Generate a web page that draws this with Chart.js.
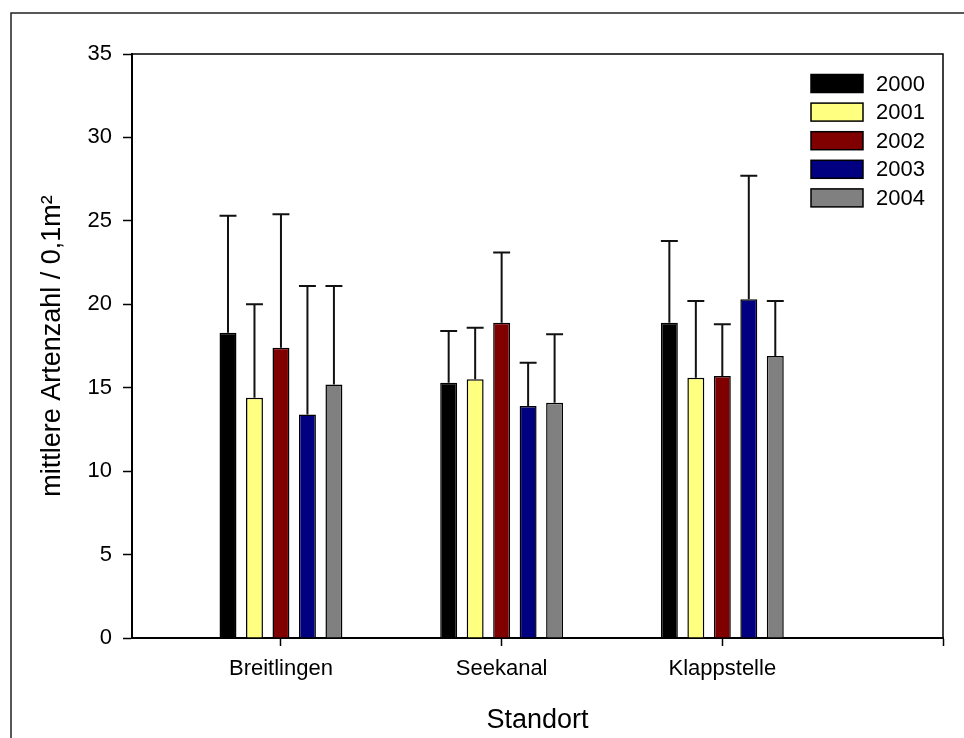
<!DOCTYPE html>
<html>
<head>
<meta charset="utf-8" />
<title>Artenzahl</title>
<script src="https://cdn.jsdelivr.net/npm/chart.js@4.4.1/dist/chart.umd.min.js"></script>
<style>
    html, body { margin: 0; padding: 0; background: #fff; overflow: hidden; }
    #holder { position: relative; width: 964px; height: 738px; }
</style>
</head>
<body>
<div id="holder"><canvas id="chart"></canvas></div>

<script>
// sites and tick positions
var categories = ['Breitlingen', 'Seekanal', 'Klappstelle'];
var sitePos = [1, 2, 3];
var yTicks = [0, 5, 10, 15, 20, 25, 30, 35];

// mean species count per year (one value per site)
var years = ['2000', '2001', '2002', '2003', '2004'];
var m2000 = [18.3, 15.3, 18.9];
var m2001 = [14.4, 15.5, 15.6];
var m2002 = [17.4, 18.9, 15.7];
var m2003 = [13.4, 13.9, 20.3];
var m2004 = [15.2, 14.1, 16.9];

// upper error (standard deviation)
var e2000 = [7.0, 3.1, 4.9];
var e2001 = [5.6, 3.1, 4.6];
var e2002 = [8.0, 4.2, 3.1];
var e2003 = [7.7, 2.6, 7.4];
var e2004 = [5.9, 4.1, 3.3];

var means = [m2000, m2001, m2002, m2003, m2004];
var errs = [e2000, e2001, e2002, e2003, e2004];
var colors = ['#000000', '#FFFF80', '#800000', '#000080', '#808080'];

var FONT = '"Liberation Sans", Arial, Helvetica, sans-serif';

function toPoints(vals) {
    return vals.map(function(v, i) { return { x: sitePos[i], y: v }; });
}

var datasets = years.map(function(yr, k) {
    return {
        label: yr,
        data: toPoints(means[k]),
        errors: errs[k],
        backgroundColor: colors[k],
        borderColor: '#000',
        borderWidth: 1.5,
        categoryPercentage: 0.6,
        barPercentage: 0.64
    };
});

// whisker on top of every bar, only the upper half
var errorBars = {
    id: 'errorBars',
    afterDatasetsDraw: function(chart) {
        var ctx = chart.ctx;
        var yScale = chart.scales.y;
        ctx.save();
        ctx.strokeStyle = '#111';
        ctx.lineWidth = 2;
        chart.data.datasets.forEach(function(ds, i) {
            var meta = chart.getDatasetMeta(i);
            meta.data.forEach(function(bar, j) {
                var top = yScale.getPixelForValue(ds.data[j].y + ds.errors[j]);
                var half = bar.width / 2;
                ctx.beginPath();
                ctx.moveTo(bar.x, bar.y);
                ctx.lineTo(bar.x, top);
                ctx.moveTo(bar.x - half, top);
                ctx.lineTo(bar.x + half, top);
                ctx.stroke();
            });
        });
        ctx.restore();
    }
};

// outer frame of the figure and the closing lines of the plot box
var frames = {
    id: 'frames',
    beforeDraw: function(chart) {
        var ctx = chart.ctx;
        ctx.save();
        ctx.strokeStyle = '#222';
        ctx.lineWidth = 1.5;
        ctx.beginPath();
        ctx.moveTo(11, chart.height + 2);
        ctx.lineTo(11, 13);
        ctx.lineTo(chart.width + 2, 13);
        ctx.stroke();
        ctx.restore();
    },
    afterDraw: function(chart) {
        var a = chart.chartArea;
        var ctx = chart.ctx;
        ctx.save();
        ctx.strokeStyle = '#000';
        ctx.lineWidth = 1.5;
        ctx.beginPath();
        ctx.moveTo(a.left, a.top);
        ctx.lineTo(a.right, a.top);
        ctx.lineTo(a.right, a.bottom);
        ctx.stroke();
        ctx.restore();
    }
};

// legend boxes in the upper right corner of the plot
var boxLegend = {
    id: 'boxLegend',
    afterDraw: function(chart) {
        var a = chart.chartArea;
        var ctx = chart.ctx;
        var x = a.right - 132;
        var y0 = a.top + 20.5;
        ctx.save();
        ctx.font = '22px ' + FONT;
        ctx.textBaseline = 'middle';
        ctx.textAlign = 'left';
        ctx.lineWidth = 1.5;
        ctx.strokeStyle = '#000';
        chart.data.datasets.forEach(function(ds, i) {
            var y = y0 + i * 28.6;
            ctx.fillStyle = ds.backgroundColor;
            ctx.fillRect(x, y, 52, 18);
            ctx.strokeRect(x, y, 52, 18);
            ctx.fillStyle = '#000';
            ctx.fillText(ds.label, x + 65, y + 10);
        });
        ctx.restore();
    }
};

var config = {
    type: 'bar',
    data: { datasets: datasets },
    plugins: [frames, errorBars, boxLegend],
    options: {
        responsive: true,
        maintainAspectRatio: false,
        animation: false,
        layout: { padding: { left: 0, top: 54, right: 21, bottom: 0 } },
        plugins: {
            legend: { display: false },
            tooltip: { enabled: false }
        },
        scales: {
            x: {
                type: 'linear',
                min: 0.325,
                max: 4,
                offset: false,
                afterBuildTicks: function(scale) {
                    scale.ticks = sitePos.concat([4]).map(function(v) { return { value: v }; });
                },
                afterFit: function(scale) { scale.height = 100; },
                grid: { display: true, offset: false, drawOnChartArea: false, drawTicks: true, tickLength: 8, tickColor: '#000', tickWidth: 1.5 },
                border: { display: true, color: '#000', width: 2 },
                ticks: {
                    autoSkip: false,
                    maxRotation: 0,
                    padding: 10,
                    color: '#000',
                    font: { family: FONT, size: 22 },
                    callback: function(v) {
                        var i = sitePos.indexOf(v);
                        return i < 0 ? '' : categories[i];
                    }
                },
                title: {
                    display: true,
                    text: 'Standort',
                    color: '#000',
                    font: { family: FONT, size: 27, lineHeight: 1.2 },
                    padding: { top: 0, bottom: 1.3 }
                }
            },
            y: {
                min: 0,
                max: 35,
                afterBuildTicks: function(scale) {
                    scale.ticks = yTicks.map(function(v) { return { value: v }; });
                },
                afterFit: function(scale) { scale.width = 132; },
                grid: { display: true, drawOnChartArea: false, drawTicks: true, tickLength: 9, tickColor: '#000', tickWidth: 1.5 },
                border: { display: true, color: '#000', width: 2 },
                ticks: {
                    padding: 11,
                    color: '#000',
                    font: { family: FONT, size: 22 }
                },
                title: {
                    display: true,
                    text: 'mittlere Artenzahl / 0,1m²',
                    color: '#000',
                    font: { family: FONT, size: 27, lineHeight: 1.2 },
                    padding: { top: 36, bottom: 0 }
                }
            }
        }
    }
};

new Chart(document.getElementById('chart'), config);
</script>
</body>
</html>
